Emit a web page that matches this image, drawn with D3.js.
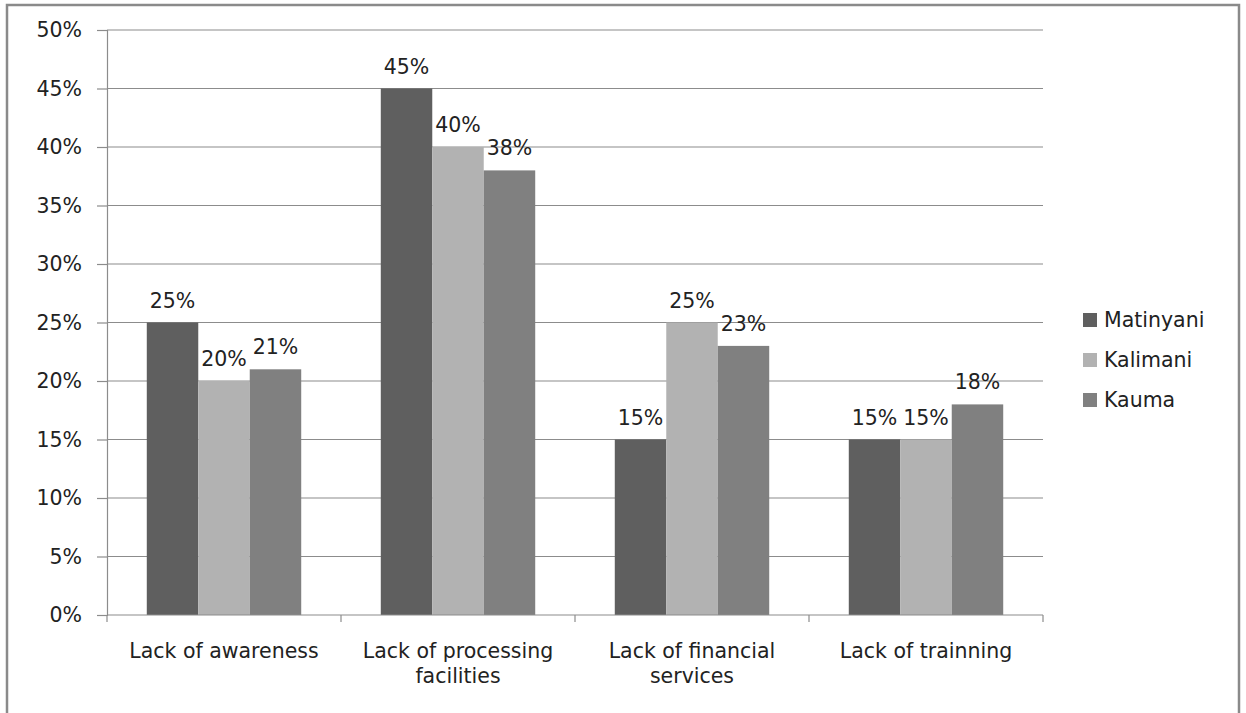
<!DOCTYPE html>
<html>
<head>
<meta charset="utf-8">
<script src="https://cdn.jsdelivr.net/npm/d3@7"></script>
<style>
  html, body { margin: 0; padding: 0; background: #ffffff; }
  svg { display: block; }
  text { font-family: "DejaVu Sans", sans-serif; fill: #222; }
</style>
</head>
<body>
<svg id="chart" width="1246" height="713"></svg>
<script>
// Categories (constraints) and the share reported in each location
const categories = [
  ["Lack of awareness"],
  ["Lack of processing", "facilities"],
  ["Lack of financial", "services"],
  ["Lack of trainning"]
];
const seriesNames = ["Matinyani", "Kalimani", "Kauma"];
const matinyani = [0.25, 0.45, 0.15, 0.15];
const kalimani  = [0.20, 0.40, 0.25, 0.15];
const kauma     = [0.21, 0.38, 0.23, 0.18];
const yTicks = [0, 0.05, 0.10, 0.15, 0.20, 0.25, 0.30, 0.35, 0.40, 0.45, 0.50];
const colors = ["#5f5f5f", "#b2b2b2", "#808080"];

const series = [matinyani, kalimani, kauma];
const catKeys = categories.map(c => c.join(" "));

const svg = d3.select("#chart");
const plot = { left: 107, right: 1043, top: 30, bottom: 615 };
const gridColor = "#8c8c8c";
const fontSize = 20.5;

// outer frame (bottom edge runs past the page)
svg.append("rect")
  .attr("x", 7).attr("y", 5)
  .attr("width", 1232).attr("height", 760)
  .attr("fill", "none")
  .attr("stroke", "#8a8a8a")
  .attr("stroke-width", 2.5);

const x = d3.scaleBand().domain(catKeys).range([plot.left, plot.right]).padding(0);
const groupW = x.bandwidth() * 0.66;
const xInner = d3.scaleBand().domain(seriesNames)
  .range([(x.bandwidth() - groupW) / 2, (x.bandwidth() + groupW) / 2]).padding(0);
const y = d3.scaleLinear().domain([0, 0.5]).range([plot.bottom, plot.top]);

// horizontal gridlines
svg.append("g")
  .selectAll("line")
  .data(yTicks.filter(t => t > 0))
  .join("line")
  .attr("x1", plot.left).attr("x2", plot.right)
  .attr("y1", d => y(d)).attr("y2", d => y(d))
  .attr("stroke", gridColor).attr("stroke-width", 1.2);

// y axis
const yAxis = svg.append("g")
  .attr("transform", `translate(${plot.left},0)`)
  .call(d3.axisLeft(y).tickValues(yTicks).tickFormat(d3.format(".0%")).tickSize(10).tickPadding(15));
yAxis.select(".domain").attr("stroke", gridColor).attr("stroke-width", 1.2);
yAxis.selectAll(".tick line").attr("stroke", gridColor).attr("stroke-width", 1.2);
yAxis.selectAll(".tick text")
  .attr("font-size", fontSize)
  .attr("font-family", "DejaVu Sans, sans-serif")
  .attr("fill", "#222");

// bars
const groups = svg.append("g")
  .selectAll("g")
  .data(catKeys)
  .join("g")
  .attr("transform", d => `translate(${x(d)},0)`);

groups.selectAll("rect")
  .data((d, i) => seriesNames.map((s, j) => ({ s, j, v: series[j][i] })))
  .join("rect")
  .attr("x", d => xInner(d.s))
  .attr("width", xInner.bandwidth())
  .attr("y", d => y(d.v))
  .attr("height", d => y(0) - y(d.v))
  .attr("fill", d => colors[d.j]);

// value labels
groups.selectAll("text.val")
  .data((d, i) => seriesNames.map((s, j) => ({ s, j, v: series[j][i] })))
  .join("text")
  .attr("class", "val")
  .attr("x", d => xInner(d.s) + xInner.bandwidth() / 2)
  .attr("y", d => y(d.v) - 15)
  .attr("text-anchor", "middle")
  .attr("font-size", fontSize)
  .text(d => d3.format(".0%")(d.v));

// x axis line and category boundary ticks
svg.append("line")
  .attr("x1", plot.left).attr("x2", plot.right)
  .attr("y1", plot.bottom).attr("y2", plot.bottom)
  .attr("stroke", gridColor).attr("stroke-width", 1.2);
const bounds = catKeys.map(k => x(k)).concat([plot.right]);
svg.append("g").selectAll("line")
  .data(bounds)
  .join("line")
  .attr("x1", d => d).attr("x2", d => d)
  .attr("y1", plot.bottom).attr("y2", plot.bottom + 7)
  .attr("stroke", gridColor).attr("stroke-width", 1.2);

// category labels
const catLabels = svg.append("g").selectAll("text")
  .data(categories)
  .join("text")
  .attr("x", (d, i) => x(catKeys[i]) + x.bandwidth() / 2)
  .attr("y", 658)
  .attr("text-anchor", "middle")
  .attr("font-size", fontSize);
catLabels.selectAll("tspan")
  .data(d => d)
  .join("tspan")
  .attr("x", function () { return d3.select(this.parentNode).attr("x"); })
  .attr("dy", (d, i) => i === 0 ? 0 : 25)
  .text(d => d);

// legend
const legend = svg.append("g").attr("transform", "translate(1083,320)");
const items = legend.selectAll("g")
  .data(seriesNames)
  .join("g")
  .attr("transform", (d, i) => `translate(0,${i * 40})`);
items.append("rect")
  .attr("x", 0).attr("y", -7)
  .attr("width", 14).attr("height", 14)
  .attr("fill", (d, i) => colors[i]);
items.append("text")
  .attr("x", 21).attr("y", 0)
  .attr("dy", "0.35em")
  .attr("font-size", fontSize)
  .text(d => d);
</script>
</body>
</html>
